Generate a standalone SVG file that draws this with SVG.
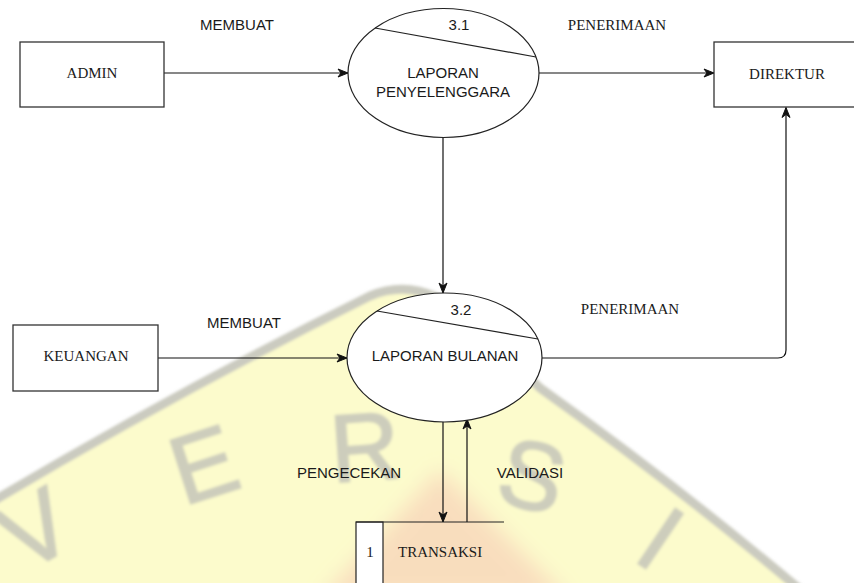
<svg xmlns="http://www.w3.org/2000/svg" width="854" height="583" viewBox="0 0 854 583">
  <defs>
    <marker id="arrow" markerUnits="userSpaceOnUse" markerWidth="12" markerHeight="10" refX="11" refY="5" orient="auto">
      <path d="M1,1 L11,5 L1,9 L4,5 Z" fill="#111" stroke="#111" stroke-width="1" stroke-linejoin="miter"/>
    </marker>
    <filter id="soft" x="-10%" y="-10%" width="120%" height="120%">
      <feGaussianBlur stdDeviation="1.6"/>
    </filter>
    <filter id="softer" x="-30%" y="-30%" width="160%" height="160%">
      <feGaussianBlur stdDeviation="10"/>
    </filter>
  </defs>
  <style>
    .box { fill: #fff; stroke: #333; stroke-width: 1.3; }
    .proc { fill: #fff; stroke: #222; stroke-width: 1.2; }
    .div { fill: none; stroke: #222; stroke-width: 1.2; }
    .flow { fill: none; stroke: #111; stroke-width: 1.2; }
    .sans { font-family: "Liberation Sans", Arial, sans-serif; font-size: 15px; fill: #1a1a1a; text-anchor: middle; }
    .serif { font-family: "Liberation Serif", "Times New Roman", serif; font-size: 15px; fill: #1a1a1a; text-anchor: middle; }
    .wm { font-family: "Liberation Sans", Arial, sans-serif; font-size: 96px; fill: #cdcdbc; stroke: #cdcdbc; stroke-width: 2; text-anchor: middle; }
  </style>

  <rect width="854" height="583" fill="#fff"/>

  <!-- faint background seal -->
  <g id="seal" filter="url(#soft)">
    <path d="M -10 503 Q 180 390 370 296 Q 420 275 470 320 Q 500 350 540 388 Q 690 495 830 615 L 830 650 L -10 650 Z" fill="#fcfbcc" stroke="#cbcbc0" stroke-width="9"/>
    <polygon points="320,600 440,470 570,600" fill="#f6c6b2" opacity="0.55" filter="url(#softer)"/>
    <text class="wm" transform="translate(52,558) rotate(-30)">V</text>
    <text class="wm" transform="translate(214,496) rotate(-18)">E</text>
    <text class="wm" transform="translate(367,480) rotate(-4)">R</text>
    <text class="wm" transform="translate(524,508) rotate(14)">S</text>
    <text class="wm" transform="translate(642,566) rotate(34)">I</text>
  </g>

  <!-- data flows -->
  <g id="connectors">
    <line class="flow" x1="164" y1="73" x2="348" y2="73" marker-end="url(#arrow)"/>
    <line class="flow" x1="539" y1="73" x2="714" y2="73" marker-end="url(#arrow)"/>
    <line class="flow" x1="443" y1="137.5" x2="443" y2="293" marker-end="url(#arrow)"/>
    <line class="flow" x1="158" y1="358" x2="347" y2="358" marker-end="url(#arrow)"/>
    <path class="flow" d="M 542 358 H 778 Q 786 358 786 350 V 107.5" marker-end="url(#arrow)"/>
    <line class="flow" x1="443" y1="422" x2="443" y2="522" marker-end="url(#arrow)"/>
    <line class="flow" x1="467" y1="522" x2="467" y2="419" marker-end="url(#arrow)"/>
    <text class="sans" x="237" y="30">MEMBUAT</text>
    <text class="serif" x="617" y="30">PENERIMAAN</text>
    <text class="sans" x="244" y="328">MEMBUAT</text>
    <text class="serif" x="630" y="314">PENERIMAAN</text>
    <text class="sans" x="349" y="478">PENGECEKAN</text>
    <text class="sans" x="530" y="478">VALIDASI</text>
  </g>

  <!-- external entities -->
  <g id="admin">
    <rect class="box" x="20" y="42" width="144" height="65"/>
    <text class="serif" x="92" y="78">ADMIN</text>
  </g>
  <g id="direktur">
    <rect class="box" x="714" y="42" width="146" height="65"/>
    <text class="serif" x="787" y="79">DIREKTUR</text>
  </g>
  <g id="keuangan">
    <rect class="box" x="13" y="325" width="145" height="66"/>
    <text class="serif" x="86" y="361">KEUANGAN</text>
  </g>

  <!-- processes -->
  <g id="proc-3-1">
    <ellipse class="proc" cx="443.5" cy="73" rx="95.5" ry="64.5"/>
    <line class="div" x1="375" y1="28" x2="536" y2="57"/>
    <text class="sans" x="459" y="30">3.1</text>
    <text class="sans" x="443" y="78">LAPORAN</text>
    <text class="sans" x="443" y="97">PENYELENGGARA</text>
  </g>
  <g id="proc-3-2">
    <ellipse class="proc" cx="444.5" cy="357.5" rx="97.5" ry="64.5"/>
    <line class="div" x1="377" y1="311" x2="538" y2="339"/>
    <text class="sans" x="461" y="315">3.2</text>
    <text class="sans" x="445" y="361">LAPORAN BULANAN</text>
  </g>

  <!-- data store -->
  <g id="store-transaksi">
    <rect x="356" y="522" width="27" height="70" fill="#fff" stroke="#222" stroke-width="1.2"/>
    <line class="div" x1="356" y1="522" x2="504" y2="522"/>
    <text class="serif" x="370" y="557">1</text>
    <text class="serif" x="398" y="557" style="text-anchor:start">TRANSAKSI</text>
  </g>
</svg>
